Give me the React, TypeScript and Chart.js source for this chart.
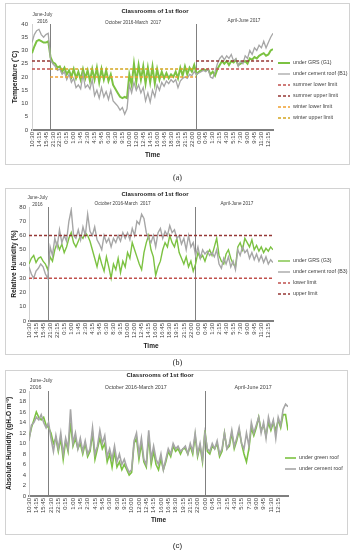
import React, { useEffect, useRef } from 'react';
import { Chart, registerables } from 'chart.js';

Chart.register(...registerables);

const FONT = "'Liberation Sans', Arial, sans-serif";
Chart.defaults.font.family = FONT;

// ---------- shared axis labels ----------
const timeTicks = ['10:30', '14:15', '15:45', '21:30', '22:15', '0:15', '1:00', '1:45', '2:30', '4:15', '5:45', '6:30', '8:30', '9:15', '10:00', '12:00', '12:45', '14:15', '16:00', '16:45', '18:30', '19:15', '21:15', '22:00', '0:00', '0:45', '1:30', '2:15', '4:30', '5:15', '7:30', '9:00', '9:45', '11:30', '12:15'];
const STEP = 3; // readings between two labelled times

// ---------- (a) temperature ----------
const tempGRS = [29, 31.5, 33.5, 34, 33.5, 33, 33, 33.5,
  27.5, 25.5, 25, 23.5, 24, 22, 23.5, 21, 22.5, 20, 23, 19.5, 22, 19, 23, 19.5, 22.5, 18.5, 23, 19, 23.5, 18, 23, 19, 22.5, 18.5, 21, 17, 15.5, 14, 12.5, 12, 12.5, 12, 21, 17, 25, 18, 24.5, 19, 24, 17.5, 23.5, 18, 24, 17.5, 23, 19, 22, 19.5, 21.5, 19.5, 21, 20, 22, 19.5, 23.5, 20.5, 24, 21, 23.5, 22, 24.5,
  21, 22, 22.5, 23, 22.5, 23, 21, 22, 20.5, 23, 24.5, 26, 25, 26, 24.5, 26, 25.5, 26.5, 24.5, 25, 25.5, 26, 25, 27, 26.5, 27.5, 27, 28, 28.5, 29, 28, 28.5, 30, 30.5];
const tempCement = [33, 36, 37.5, 38, 36, 35, 36, 36.5,
  26.5, 25, 24, 22.5, 23, 21, 22, 19, 21, 18, 19.5, 16, 17, 15.5, 21, 16, 17, 15.5, 19, 13, 15, 12, 16, 12.5, 14.5, 11.5, 15, 11, 10, 9, 7.5, 8.5, 6, 8, 17, 14, 18, 15, 17, 14, 16, 11, 14, 10.5, 15, 12.5, 17, 15, 18, 16.5, 18.5, 17.5, 19, 18, 19, 16, 18.5, 19.5, 20, 19.5, 21, 20.5, 22,
  21, 21.5, 22, 22.5, 22, 23, 20, 19.5, 22, 25, 27, 28, 26.5, 28, 27, 28.5, 26, 27, 24, 26, 25, 28, 27, 30, 28.5, 31, 30, 32, 31, 33.5, 31, 33, 35, 36.5];
const tempBreaks = [7.8, 70.8];
const summerLimitValues = [23, 26];
const winterLimitValues = [20, 23];

// ---------- (b) relative humidity ----------
const rhGRS = [40, 44, 46, 41, 44, 45, 42, 40, 36, 45, 42, 50, 55, 50, 54, 48, 52, 58, 62, 55, 52, 56, 60, 58, 62, 60, 56, 50, 44, 38, 46, 40, 35, 45, 38, 30, 40, 36, 44, 34, 42, 38, 48, 44, 55, 50, 45, 40, 36, 48, 55, 60, 50, 45, 32, 38, 42, 50, 55, 52, 60, 55, 52, 58, 48, 44, 40, 45, 38, 42, 35, 40, 48, 44, 46, 42, 47, 50, 46, 52, 58, 46, 42, 40, 47, 50, 44, 40, 38, 52, 55, 50, 58, 55, 52, 57, 50, 53, 49, 52, 48, 51, 49, 52, 50];
const rhCement = [38, 33, 30, 35, 37, 40, 38, 33, 30, 52, 46, 58, 52, 64, 55, 60, 56, 70, 78, 60, 58, 64, 57, 66, 60, 75, 63, 60, 66, 57, 54, 50, 60, 55, 58, 52, 58, 55, 60, 56, 62, 58, 62, 57, 65, 60, 70, 68, 75, 72, 62, 58, 55, 60, 52, 62, 65, 58, 63, 60, 67, 62, 64, 58, 60, 54, 58, 50, 60, 52, 55, 46, 52, 44, 50, 47, 49, 46, 48, 45, 50, 40, 37, 44, 40, 45, 38, 42, 36, 50, 46, 52, 48, 50, 44, 48, 43, 47, 42, 46, 41, 45, 40, 43, 41];
const rhBreaks = [8.3, 70.9];
const rhLimitValues = [30, 60];

// ---------- (c) absolute humidity ----------
const ahGreen = [11, 13, 14.5, 16, 15, 14.5, 15, 13.5, 13, 12, 10, 11, 8.5, 11, 7, 10.5, 8.5, 14, 9.5, 11, 9, 10, 8, 10, 7.5, 8.5, 12, 7, 9, 11, 9, 10, 6.5, 8, 5.5, 8.5, 5.5, 6.5, 5, 6, 5, 4, 4.5, 10, 11, 7, 10, 6.5, 5.5, 11.5, 6, 8.5, 6, 5, 7, 5, 6.5, 8.5, 7.5, 9.5, 8.5, 9, 8, 9, 9, 8, 9.5, 8, 11.5, 7.5, 9.5, 6.5, 12.5, 8.5, 8, 9.5, 9, 10, 7.5, 8.5, 12, 9, 9.5, 12, 9, 10.5, 12.5, 10, 8, 6.5, 9, 13, 11.5, 13, 15, 12.5, 13.5, 11.5, 14, 12.5, 14, 12.5, 14.5, 13, 15.5, 15.5, 12.5];
const ahCement = [10.5, 13.5, 14, 15, 14.5, 15.5, 14, 13, 14, 11, 8.5, 11.5, 9, 12, 8, 11, 9, 16.5, 10, 12, 9, 11, 8.5, 10.5, 8, 9, 13, 8, 9.5, 12.5, 10, 11.5, 7.5, 9, 7, 9.5, 6.5, 8, 6, 7, 5.5, 4.5, 5, 10.5, 12, 8, 11, 7, 6, 12.5, 7, 9.5, 7, 6, 8, 5, 7, 9, 8, 10, 9, 9.5, 8.5, 9, 9.5, 8, 10, 8.5, 12, 8, 10, 7, 12, 9, 8.5, 10, 9, 10.5, 8, 9, 12, 9, 10, 12.5, 9.5, 11, 13, 10, 9, 12, 9.5, 14, 12, 13.5, 15, 12, 14, 11, 15, 13, 14.5, 11, 15, 13.5, 16.5, 17.5, 17];
const ahBreaks = [7.8, 72];

// ---------- styles ----------
const GREEN = '#7cc242';
const GRAY = '#a6a6a6';
const SUMMER_LO = '#c0504d';
const SUMMER_HI = '#953735';
const WINTER_LO = '#f0a030';
const WINTER_HI = '#d4a520';
const DASH = [3, 2];

const pts = (vals: number[]) => vals.map((y, i) => ({ x: i, y }));
const seg = (v: number, ranges: number[][]) => {
  const out: any[] = [];
  ranges.forEach((r, k) => {
    if (k) out.push({ x: (ranges[k - 1][1] + r[0]) / 2, y: null });
    out.push({ x: r[0], y: v }, { x: r[1], y: v });
  });
  return out;
};
const limitDs = (label: string, data: any[], color: string) => ({
  label, data, borderColor: color, borderWidth: 1.5, borderDash: DASH, order: -1, spanGaps: false, pointRadius: 0,
});

type PeriodText = { text: string; x: number; y: number; align: CanvasTextAlign };
type Spec = {
  left: number; top: number; w: number; h: number;
  caption: string; captionTop: number; captionFont: string;
  datasets: any[]; n: number;
  yMax: number; yStep: number; yTitle: string;
  plot: { left: number; right: number; top: number; bottom: number };
  yTitlePad: number; yTickPad: number; timePad: number;
  breaks: number[];
  title: { x: number; y: number; size: number };
  periods: PeriodText[]; periodSize: number;
  legend: { x: number; y: number; gap: number; len: number; size: number };
};

const nA = tempGRS.length;
const specA: Spec = {
  left: 5, top: 3, w: 345, h: 162,
  caption: '(a)', captionTop: 178, captionFont: "'Liberation Serif', serif",
  n: nA,
  datasets: [
    { label: 'under GRS (G1)', data: pts(tempGRS), borderColor: GREEN, borderWidth: 2, order: 1, pointRadius: 0 },
    { label: 'under cement roof (B1)', data: pts(tempCement), borderColor: GRAY, borderWidth: 1.3, order: 0, pointRadius: 0 },
    limitDs('summer lower limit', seg(summerLimitValues[0], [[0, tempBreaks[0]], [tempBreaks[1], nA - 1]]), SUMMER_LO),
    limitDs('summer upper limit', seg(summerLimitValues[1], [[0, tempBreaks[0]], [tempBreaks[1], nA - 1]]), SUMMER_HI),
    limitDs('winter lower limit', seg(winterLimitValues[0], [[tempBreaks[0], tempBreaks[1]]]), WINTER_LO),
    limitDs('winter upper limit', seg(winterLimitValues[1], [[tempBreaks[0], tempBreaks[1]]]), WINTER_HI),
  ],
  yMax: 40, yStep: 5, yTitle: 'Temperature (˚C)',
  plot: { left: 27, right: 268, top: 21, bottom: 127 },
  yTitlePad: 6.5, yTickPad: 4, timePad: 6,
  breaks: tempBreaks,
  title: { x: 150, y: 8, size: 6 },
  periods: [
    { text: 'June-July', x: 4.5, y: 43.4, align: 'center' },
    { text: '2016', x: 4.5, y: 40.8, align: 'center' },
    { text: 'October 2016-March  2017', x: 43.6, y: 40.5, align: 'center' },
    { text: 'April-June 2017', x: 91.5, y: 41.1, align: 'center' },
  ],
  periodSize: 4.7,
  legend: { x: 273, y: 60, gap: 11, len: 12, size: 5.3 },
};

const nB = rhGRS.length;
const specB: Spec = {
  left: 5, top: 188, w: 345, h: 167,
  caption: '(b)', captionTop: 363, captionFont: "'Liberation Serif', serif",
  n: nB,
  datasets: [
    { label: 'under GRS (G3)', data: pts(rhGRS), borderColor: GREEN, borderWidth: 1.4, order: 1, pointRadius: 0 },
    { label: 'under cement roof (B3)', data: pts(rhCement), borderColor: GRAY, borderWidth: 1.4, order: 0, pointRadius: 0 },
    limitDs('lower limit', seg(rhLimitValues[0], [[0, nB - 1]]), SUMMER_LO),
    limitDs('upper limit', seg(rhLimitValues[1], [[0, nB - 1]]), SUMMER_HI),
  ],
  yMax: 80, yStep: 10, yTitle: 'Relative Humidity (%)',
  plot: { left: 24, right: 268, top: 19, bottom: 133 },
  yTitlePad: 5, yTickPad: 3, timePad: 5,
  breaks: rhBreaks,
  title: { x: 150, y: 6, size: 6 },
  periods: [
    { text: 'June-July', x: 3.6, y: 86.3, align: 'center' },
    { text: '2016', x: 3.6, y: 81.4, align: 'center' },
    { text: 'October 2016-March  2017', x: 39.9, y: 82.1, align: 'center' },
    { text: 'April-June 2017', x: 88.6, y: 82.1, align: 'center' },
  ],
  periodSize: 4.7,
  legend: { x: 273, y: 73, gap: 11, len: 12, size: 5.3 },
};

const nC = ahGreen.length;
const specC: Spec = {
  left: 5, top: 370, w: 343, h: 165,
  caption: '(c)', captionTop: 546, captionFont: FONT,
  n: nC,
  datasets: [
    { label: 'under green roof', data: pts(ahGreen), borderColor: GREEN, borderWidth: 1.6, order: 1, pointRadius: 0 },
    { label: 'under cement roof', data: pts(ahCement), borderColor: GRAY, borderWidth: 1.6, order: 0, pointRadius: 0 },
  ],
  yMax: 20, yStep: 2, yTitle: 'Absolute Humidity (gH₂O m⁻³)',
  plot: { left: 24, right: 283, top: 21, bottom: 126 },
  yTitlePad: 0.5, yTickPad: 3, timePad: 11,
  breaks: ahBreaks,
  title: { x: 155, y: 5, size: 6 },
  periods: [
    { text: 'June-July', x: 0.3, y: 21.9, align: 'left' },
    { text: '2016', x: 0.3, y: 20.57, align: 'left' },
    { text: 'October 2016-March 2017', x: 43.7, y: 20.57, align: 'center' },
    { text: 'April-June 2017', x: 91.7, y: 20.57, align: 'center' },
  ],
  periodSize: 5.3,
  legend: { x: 280, y: 88, gap: 11, len: 11, size: 5.4 },
};

function buildConfig(s: Spec): any {
  const decor = {
    id: 'decor',
    beforeDatasetsDraw(chart: any) {
      const { ctx, chartArea, scales } = chart;
      ctx.save();
      ctx.strokeStyle = '#808080';
      ctx.lineWidth = 1;
      for (const b of s.breaks) {
        const x = Math.round(scales.x.getPixelForValue(b)) + 0.5;
        ctx.beginPath();
        ctx.moveTo(x, chartArea.top);
        ctx.lineTo(x, chartArea.bottom);
        ctx.stroke();
      }
      ctx.restore();
    },
    afterDraw(chart: any) {
      const { ctx, scales } = chart;
      ctx.save();
      ctx.textBaseline = 'middle';
      ctx.textAlign = 'center';
      ctx.fillStyle = '#1a1a1a';
      ctx.font = `bold ${s.title.size}px ${FONT}`;
      ctx.fillText('Classrooms of 1st floor', s.title.x, s.title.y);
      ctx.font = `${s.periodSize}px ${FONT}`;
      ctx.fillStyle = '#404040';
      for (const p of s.periods) {
        ctx.textAlign = p.align;
        ctx.fillText(p.text, scales.x.getPixelForValue(p.x), scales.y.getPixelForValue(p.y));
      }
      const L = s.legend;
      ctx.font = `${L.size}px ${FONT}`;
      ctx.textAlign = 'left';
      chart.data.datasets.forEach((ds: any, i: number) => {
        const y = L.y + i * L.gap;
        ctx.save();
        ctx.strokeStyle = ds.borderColor;
        ctx.lineWidth = ds.borderWidth;
        ctx.setLineDash(ds.borderDash || []);
        ctx.beginPath();
        ctx.moveTo(L.x, y);
        ctx.lineTo(L.x + L.len, y);
        ctx.stroke();
        ctx.restore();
        ctx.fillStyle = '#404040';
        ctx.fillText(ds.label, L.x + L.len + 3, y);
      });
      ctx.restore();
    },
  };

  return {
    type: 'line',
    data: { datasets: s.datasets },
    plugins: [decor],
    options: {
      animation: false,
      responsive: false,
      devicePixelRatio: 1,
      layout: { padding: { left: 0, right: s.w - s.plot.right, top: s.plot.top, bottom: 0 } },
      plugins: { legend: { display: false }, tooltip: { enabled: false }, title: { display: false } },
      elements: { point: { radius: 0 }, line: { tension: 0 } },
      scales: {
        x: {
          type: 'linear', min: 0, max: s.n - 1,
          grid: { display: false, drawTicks: false },
          border: { display: true, color: '#7f7f7f', width: 2 },
          ticks: {
            stepSize: STEP, autoSkip: false, includeBounds: false, maxRotation: 90, minRotation: 90,
            padding: 2, font: { size: 6 }, color: '#404040',
            callback: (v: number) => {
              const k = Math.round(v / STEP);
              return Math.abs(v / STEP - k) < 1e-6 ? (timeTicks[k] ?? '') : '';
            },
          },
          title: { display: true, text: 'Time', font: { size: 6.5, weight: 'bold' }, color: '#1a1a1a', padding: { top: 0, bottom: s.timePad } },
          afterFit: (sc: any) => { sc.height = s.h - s.plot.bottom; },
        },
        y: {
          min: 0, max: s.yMax,
          grid: { display: false, drawTicks: false },
          border: { display: true, color: '#d0d0d0', width: 1 },
          ticks: { stepSize: s.yStep, padding: s.yTickPad, font: { size: 6 }, color: '#404040' },
          title: { display: true, text: s.yTitle, font: { size: 6.6, weight: 'bold' }, color: '#1a1a1a', padding: { top: s.yTitlePad, bottom: 0 } },
          afterFit: (sc: any) => { sc.width = s.plot.left; },
        },
      },
    },
  };
}

function Panel({ spec }: { spec: Spec }) {
  const ref = useRef<HTMLCanvasElement>(null);
  useEffect(() => {
    const chart = new Chart(ref.current as HTMLCanvasElement, buildConfig(spec));
    return () => chart.destroy();
  }, [spec]);
  return (
    <>
      <canvas
        ref={ref}
        width={spec.w}
        height={spec.h}
        style={{ position: 'absolute', left: spec.left, top: spec.top, width: spec.w, height: spec.h }}
      />
      <div
        style={{
          position: 'absolute', left: spec.left, top: spec.top, width: spec.w, height: spec.h,
          border: '1px solid #d2d2d2', boxSizing: 'border-box', pointerEvents: 'none',
        }}
      />
      <div
        style={{
          position: 'absolute', left: 0, width: 355, top: spec.captionTop - 5, height: 10,
          lineHeight: '10px', textAlign: 'center', fontSize: 8, fontFamily: spec.captionFont, color: '#222',
        }}
      >
        {spec.caption}
      </div>
    </>
  );
}

export default function App() {
  return (
    <div style={{ position: 'absolute', left: 0, top: 0, width: 355, height: 550, background: '#fff', overflow: 'hidden' }}>
      <Panel spec={specA} />
      <Panel spec={specB} />
      <Panel spec={specC} />
    </div>
  );
}
